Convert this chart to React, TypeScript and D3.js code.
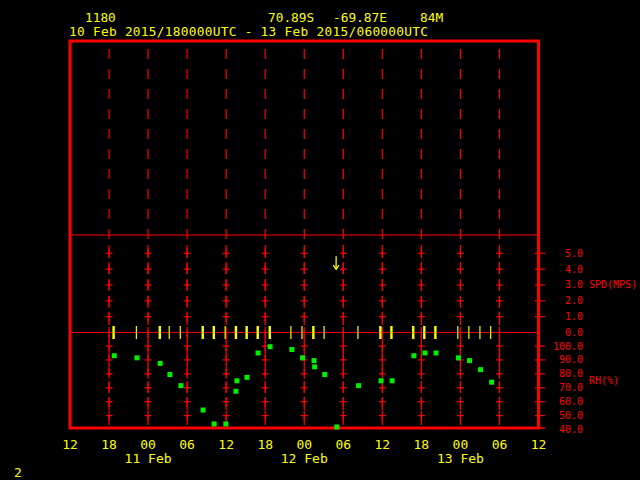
import React from "react";
import * as d3 from "d3";

// ---- data ----
const startTime = Date.UTC(2015, 1, 10, 12);
const endTime = Date.UTC(2015, 1, 13, 12);
const headerStation = "1180";
const headerLat = "70.89S";
const headerLon = "-69.87E";
const headerElev = "84M";
const headerRange = "10 Feb 2015/180000UTC - 13 Feb 2015/060000UTC";
const pageLabel = "2";

const timeTickLabels = ["12", "18", "00", "06", "12", "18", "00", "06", "12", "18", "00", "06", "12"];
const dayLabels = ["11 Feb", "12 Feb", "13 Feb"];
const dayHours = [12, 36, 60];
const gridHours = [6, 12, 18, 24, 30, 36, 42, 48, 54, 60, 66];

const spdTicks = [0, 1, 2, 3, 4, 5];
const rhTicks = [40, 50, 60, 70, 80, 90, 100];

// hours since 10 Feb 12 UTC
const rhHours = [6.8, 10.3, 13.85, 15.35, 17.05, 20.45, 22.15, 23.95, 25.5, 25.65, 27.2, 28.9, 30.75, 34.1, 35.75, 37.5, 37.6, 39.15, 41.0, 44.35, 47.8, 49.5, 52.85, 54.55, 56.25, 59.7, 61.4, 63.1, 64.8];
const rhValues = [93, 91.5, 87.5, 79.5, 71.5, 54, 44, 44, 67.5, 75, 77.5, 95, 99.5, 97.5, 91.5, 89.5, 85, 79.5, 41.5, 71.5, 75, 75, 93, 95, 95, 91.5, 89.5, 83, 74];

// calm wind reports (speed 0): time and number of reports at that time
const calmHours = [6.7, 10.2, 13.8, 15.25, 16.95, 20.4, 22.1, 23.85, 25.5, 27.15, 28.85, 30.7, 33.95, 35.65, 37.4, 39.05, 44.25, 47.7, 49.4, 52.75, 54.45, 56.15, 59.6, 61.3, 63.0, 64.65];
const calmCounts = [2, 1, 2, 1, 1, 2, 2, 1, 2, 2, 2, 2, 1, 1, 2, 1, 1, 2, 2, 2, 2, 2, 1, 1, 1, 1];

// wind vectors: time, speed (m/s), direction from (deg)
const windHours = [40.9];
const windSpeeds = [4.4];
const windDirs = [0];

const RED = "#ff0000";
const YELLOW = "#ffff00";
const GREEN = "#00f000";
const FONT = "DejaVu Sans Mono";

export default function App() {
  const toDate = (h: number) => new Date(startTime + h * 3600e3);
  const x = d3.scaleUtc().domain([new Date(startTime), new Date(endTime)]).range([70, 538.5]);
  const ySpd = d3.scaleLinear().domain([0, 5]).range([332.5, 253.3]);
  const yRh = d3.scaleLinear().domain([40, 100]).range([429.5, 346]);
  const ticks = x.ticks(d3.utcHour.every(6) as any);

  const frame = { x0: 70, x1: 538.5, y0: 41, y1: 428 };
  const topLine = 235;

  return (
    <svg width={640} height={480} style={{ position: "absolute", left: 0, top: 0, background: "#000" }}>
      <rect x={0} y={0} width={640} height={480} fill="#000" />
      {/* header */}
      <g fill={YELLOW} fontFamily={FONT} fontSize={12.8}>
        <text x={85} y={21.5}>{headerStation}</text>
        <text x={268} y={21.5}>{headerLat}</text>
        <text x={333} y={21.5}>{headerLon}</text>
        <text x={420} y={21.5}>{headerElev}</text>
        <text x={69} y={35.5} textLength={359} lengthAdjust="spacing">{headerRange}</text>
      </g>

      {/* vertical dashed grid in upper area */}
      {gridHours.map((h, i) => (
        <line key={"g" + i} x1={x(toDate(h))} x2={x(toDate(h))} y1={49} y2={240} stroke={RED} strokeWidth={1.2} strokeDasharray="10,10" />
      ))}
      <line x1={frame.x0} x2={frame.x1} y1={topLine} y2={topLine} stroke={RED} strokeWidth={1} />

      {/* crosses in wind and RH panels */}
      {gridHours.map((h, i) => {
        const cx = x(toDate(h));
        const levels = [
          ...spdTicks.filter((v) => v > 0).map((v) => ySpd(v)),
          ...rhTicks.filter((v) => v > 40).map((v) => yRh(v)),
        ];
        return (
          <g key={"c" + i} stroke={RED} strokeWidth={1.2}>
            <line x1={cx} x2={cx} y1={245} y2={425} strokeDasharray="12,5" />
            <line x1={cx} x2={cx} y1={327} y2={338} />
            {levels.map((ly, j) => (
              <g key={j}>
                <line x1={cx - 3.5} x2={cx + 3.5} y1={ly} y2={ly} />
                <line x1={cx} x2={cx} y1={ly - 5} y2={ly + 5} />
              </g>
            ))}
          </g>
        );
      })}

      {/* zero speed line */}
      <line x1={frame.x0} x2={frame.x1} y1={ySpd(0)} y2={ySpd(0)} stroke={RED} strokeWidth={1.2} />

      {/* calm wind ticks */}
      {calmHours.map((h, i) => (
        <line key={"w" + i} x1={x(toDate(h))} x2={x(toDate(h))} y1={ySpd(0) - 6.5} y2={ySpd(0) + 6.5} stroke={YELLOW} strokeWidth={calmCounts[i] * 1.2} />
      ))}

      {/* wind vectors */}
      {windHours.map((h, i) => {
        const cx = x(toDate(h));
        const cy = ySpd(windSpeeds[i]);
        const len = 13;
        const a = ((windDirs[i] + 180) * Math.PI) / 180;
        const dx = (Math.sin(a) * len) / 2;
        const dy = (-Math.cos(a) * len) / 2;
        const tx = cx + dx, ty = cy + dy;
        const hx = cx - dx, hy = cy - dy;
        const ang = Math.atan2(ty - hy, tx - hx);
        const hl = 5;
        const p1 = [tx - hl * Math.cos(ang - 0.6), ty - hl * Math.sin(ang - 0.6)];
        const p2 = [tx - hl * Math.cos(ang + 0.6), ty - hl * Math.sin(ang + 0.6)];
        return (
          <g key={"v" + i} stroke={YELLOW} strokeWidth={1.3} fill="none">
            <line x1={hx} y1={hy} x2={tx} y2={ty} />
            <polyline points={`${p1[0]},${p1[1]} ${tx},${ty} ${p2[0]},${p2[1]}`} />
          </g>
        );
      })}

      {/* frame */}
      <rect x={frame.x0} y={frame.y0} width={frame.x1 - frame.x0} height={frame.y1 - frame.y0} fill="none" stroke={RED} strokeWidth={3} />
      <line x1={frame.x1} x2={545} y1={frame.y1} y2={frame.y1} stroke={RED} strokeWidth={1.5} />

      {/* RH points (drawn above the frame) */}
      {rhHours.map((h, i) => (
        <rect key={"r" + i} x={x(toDate(h)) - 2.5} y={Math.min(yRh(rhValues[i]), 427) - 2.5} width={5} height={5} fill={GREEN} />
      ))}

      {/* right axis ticks and labels */}
      <g fill={RED} fontFamily={FONT} fontSize={10} textAnchor="end">
        {spdTicks.map((v) => (
          <g key={"s" + v}>
            {v > 0 && <line x1={535} x2={545} y1={ySpd(v)} y2={ySpd(v)} stroke={RED} strokeWidth={1.2} />}
            <text x={583} y={ySpd(v)} dy="0.35em">{v.toFixed(1)}</text>
          </g>
        ))}
        {rhTicks.map((v) => (
          <g key={"h" + v}>
            {v > 40 && <line x1={535} x2={545} y1={yRh(v)} y2={yRh(v)} stroke={RED} strokeWidth={1.2} />}
            <text x={583} y={yRh(v)} dy="0.35em">{v.toFixed(1)}</text>
          </g>
        ))}
        <text x={589} y={ySpd(3)} dy="0.35em" textAnchor="start">SPD(MPS)</text>
        <text x={589} y={yRh(75)} dy="0.35em" textAnchor="start">RH(%)</text>
      </g>

      {/* time axis labels */}
      <g fill={YELLOW} fontFamily={FONT} fontSize={13} textAnchor="middle">
        {ticks.map((t, i) => (
          <text key={"t" + i} x={x(t)} y={449}>{timeTickLabels[i]}</text>
        ))}
        {dayLabels.map((d, i) => (
          <text key={"d" + i} x={x(toDate(dayHours[i]))} y={463}>{d}</text>
        ))}
        <text x={18} y={477}>{pageLabel}</text>
      </g>
    </svg>
  );
}
